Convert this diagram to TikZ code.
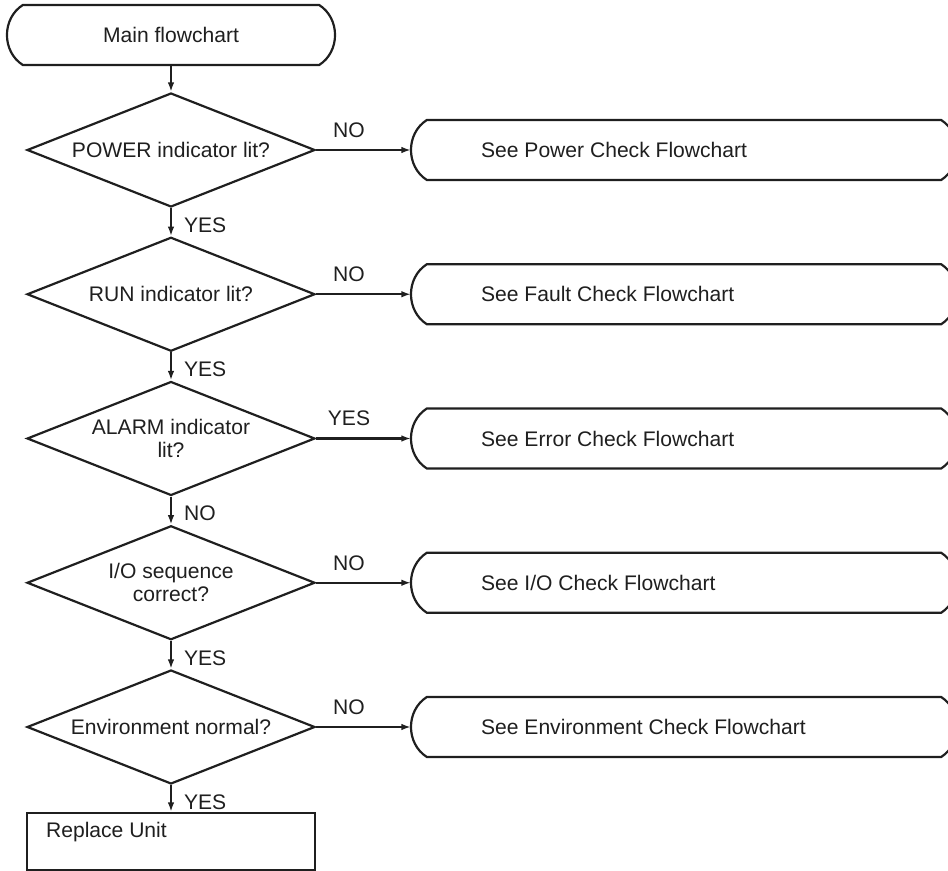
\documentclass[tikz,border=0pt]{standalone}
\usepackage{fontspec}
\setmainfont{Liberation Sans}
\usetikzlibrary{shapes.geometric,arrows.meta,calc}
\newcommand\termoutline[1]{%
  \draw ($(#1.north west)+(16,0)$) -- ($(#1.north east)+(-16,0)$)
    .. controls ($(#1.north east)+(5.3,13.5)$) and ($(#1.south east)+(5.3,-13.5)$) .. ($(#1.south east)+(-16,0)$)
    -- ($(#1.south west)+(16,0)$)
    .. controls ($(#1.south west)+(-5.3,-13.5)$) and ($(#1.north west)+(-5.3,13.5)$) .. cycle;}
\begin{document}
\begin{tikzpicture}[x=0.02cm,y=-0.02cm,
  font=\fontsize{12pt}{13pt}\selectfont,
  line width=1.25pt,
  color={black!88},
  lbl/.style={inner sep=0pt},
  dec/.style={diamond, draw, aspect=2.53, minimum width=5.76cm, minimum height=2.28cm, inner sep=0pt, align=center},
  termbox/.style={rectangle, inner sep=0pt, minimum width=10.88cm, minimum height=1.16cm},
  arr/.style={-{Latex[length=0.19cm,width=0.13cm]}}]
\clip (0,0) rectangle (948,871);
% start terminal
\node[rectangle, inner sep=0pt, minimum width=6.52cm, minimum height=1.16cm] (main) at (171,35) {Main flowchart};
\termoutline{main}
% decisions
\node[dec] (d1) at (171,150) {POWER indicator lit?};
\node[dec] (d2) at (171,294.25) {RUN indicator lit?};
\node[dec] (d3) at (171,438.5) {ALARM indicator\\lit?};
\node[dec] (d4) at (171,582.75) {I/O sequence\\correct?};
\node[dec] (d5) at (171,727) {Environment normal?};
% right terminals
\node[termbox] (t1) at (684,150) {};
\node[termbox] (t2) at (684,294.25) {};
\node[termbox] (t3) at (684,438.5) {};
\node[termbox] (t4) at (684,582.75) {};
\node[termbox] (t5) at (684,727) {};
\termoutline{t1}\termoutline{t2}\termoutline{t3}\termoutline{t4}\termoutline{t5}
\node[lbl, anchor=west] (tx1) at (480,150) {See Power Check Flowchart};
\node[lbl, anchor=west] (tx2) at (480,294.25) {See Fault Check Flowchart};
\node[lbl, anchor=west] (tx3) at (480,438.5) {See Error Check Flowchart};
\node[lbl, anchor=west] (tx4) at (480,582.75) {See I/O Check Flowchart};
\node[lbl, anchor=west] (tx5) at (480,727) {See Environment Check Flowchart};
% final box
\node[draw, rectangle, inner sep=0pt, minimum width=5.76cm, minimum height=1.14cm] (rep) at (171,841.5) {};
\node[lbl, anchor=west] (reptxt) at (45,832) {Replace Unit};
% connectors
\draw[arr] (main.south) -- (d1.north);
\draw[arr] (d1.south) -- (d2.north);
\draw[arr] (d2.south) -- (d3.north);
\draw[arr] (d3.south) -- (d4.north);
\draw[arr] (d4.south) -- (d5.north);
\draw[arr] (d5.south) -- (rep.north);
\draw[arr] (d1.east) -- (t1.west);
\draw[arr] (d2.east) -- (t2.west);
\draw[arr] (d3.east) -- (t3.west);
\draw[arr] (d4.east) -- (t4.west);
\draw[arr] (d5.east) -- (t5.west);
% labels
\node[lbl, anchor=west] (y1) at (183,225) {YES};
\node[lbl, anchor=west] (y2) at (183,369.25) {YES};
\node[lbl, anchor=west] (y3) at (183,513.5) {NO};
\node[lbl, anchor=west] (y4) at (183,657.75) {YES};
\node[lbl, anchor=west] (y5) at (183,802) {YES};
\node[lbl] (s1) at (349,130) {NO};
\node[lbl] (s2) at (349,274.25) {NO};
\node[lbl] (s3) at (349,418.5) {YES};
\node[lbl] (s4) at (349,562.75) {NO};
\node[lbl] (s5) at (349,707) {NO};
\end{tikzpicture}
\end{document}
